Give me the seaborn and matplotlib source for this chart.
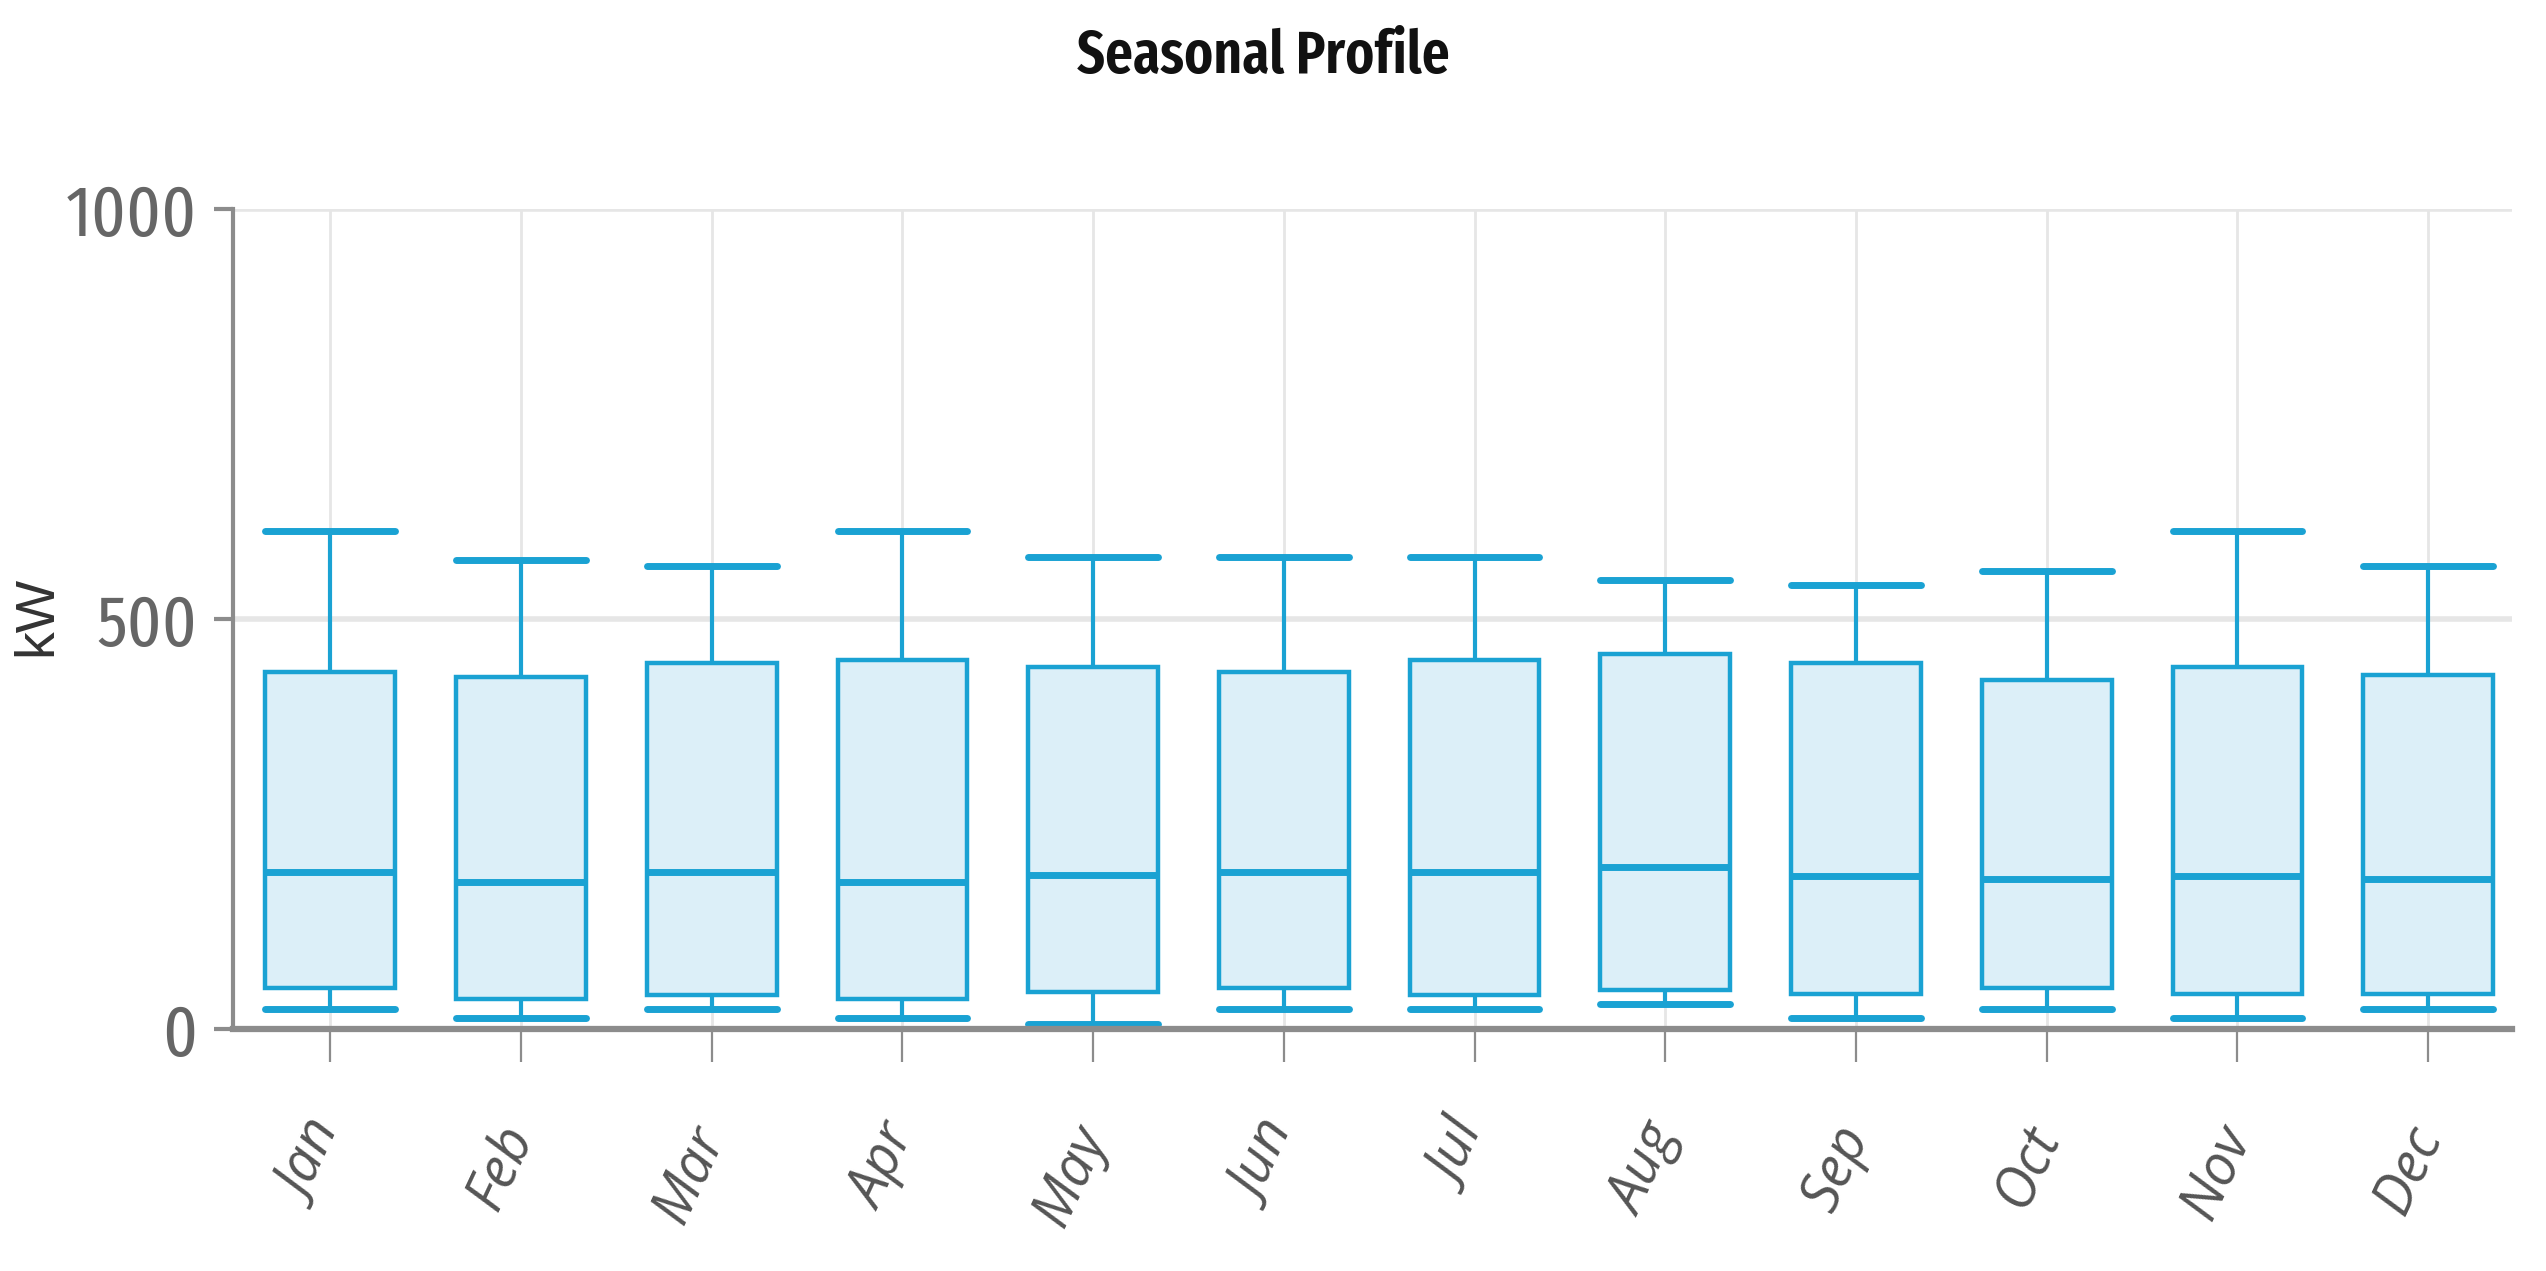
import numpy as np
import pandas as pd
import matplotlib
matplotlib.use("Agg")
import matplotlib.pyplot as plt
from matplotlib import font_manager as fm
import seaborn as sns

months = ["Jan", "Feb", "Mar", "Apr", "May", "Jun",
          "Jul", "Aug", "Sep", "Oct", "Nov", "Dec"]
whisker_low = [25, 13, 24, 13, 6, 25, 24, 30, 13, 25, 13, 25]
q1 = [50, 37, 42, 37, 45, 50, 42, 48, 43, 50, 43, 43]
median = [191, 179, 191, 179, 188, 191, 191, 198, 187, 183, 187, 183]
q3 = [435, 429, 446, 450, 442, 435, 450, 457, 446, 425, 442, 432]
whisker_high = [607, 572, 565, 607, 576, 576, 576, 547, 542, 559, 607, 565]
y_ticks = [0, 500, 1000]

rows = []
for m, a, b, c, d, e in zip(months, whisker_low, q1, median, q3, whisker_high):
    for v in (a, b, c, d, e):
        rows.append({"month": m, "kW": v})
df = pd.DataFrame(rows)

sns.set_theme(style="white")
names = {f.name for f in fm.fontManager.ttflist}


def pick(*cands):
    for c in cands:
        if c in names:
            return c
    return "DejaVu Sans"


COND = pick("Fira Sans Extra Condensed", "Fira Sans Condensed",
            "Liberation Sans Narrow", "Liberation Sans")
REG = pick("Open Sans", "Liberation Sans", "DejaVu Sans")
KWF = pick("Liberation Sans", "DejaVu Sans")
plt.rcParams["font.family"] = [COND, "DejaVu Sans"]

EDGE = "#1aa2d3"
FILL = "#dceff8"
GRID = "#e6e6e6"
AXC = "#8c8c8c"

fig = plt.figure(figsize=(25.46, 12.71), dpi=100)
ax = fig.add_axes([0.0915, 0.1904, 0.9867 - 0.0915, 0.8356 - 0.1904])

sns.boxplot(data=df, x="month", y="kW", order=months, ax=ax,
            width=0.68, color=FILL, saturation=1, linecolor=EDGE,
            linewidth=3.2, whis=(0, 100), showfliers=False,
            capwidths=0.68,
            capprops=dict(linewidth=5, color=EDGE),
            whiskerprops=dict(linewidth=3, color=EDGE),
            medianprops=dict(linewidth=5, color=EDGE))

ax.set_xlim(-0.51, 11.44)
ax.set_ylim(0, 1000)
ax.set_yticks(y_ticks)
ax.set_axisbelow(True)
ax.yaxis.grid(True, color=GRID, linewidth=4)
ax.xaxis.grid(True, color=GRID, linewidth=2)

for s in ["top", "right"]:
    ax.spines[s].set_visible(False)
ax.spines["left"].set_color(AXC)
ax.spines["left"].set_linewidth(3)
ax.spines["bottom"].set_color(AXC)
ax.spines["bottom"].set_linewidth(4.5)

ax.tick_params(axis="y", left=True, length=14, width=3, color=AXC,
               pad=12, labelsize=52, labelcolor="#666666")
ax.tick_params(axis="x", bottom=True, length=24, width=1.6, color=AXC,
               pad=48, labelsize=40, labelcolor="#555555")
for lab in ax.get_xticklabels():
    lab.set_rotation(65)
    lab.set_ha("right")
    lab.set_va("center")
    lab.set_rotation_mode("anchor")
    lab.set_style("italic")
    lab.set_family([REG, "DejaVu Sans"])

ax.set_xlabel("")
ax.set_ylabel("kW", fontsize=40, color="#333333", family=[KWF, "DejaVu Sans"])
ax.yaxis.label.set_va("center")
ax.yaxis.set_label_coords(-0.086, 0.504)

fig.text(0.496, 0.955, "Seasonal Profile", ha="center", va="center",
         fontsize=43, fontweight="semibold", color="#111111")

fig.savefig("out.png", dpi=100)
